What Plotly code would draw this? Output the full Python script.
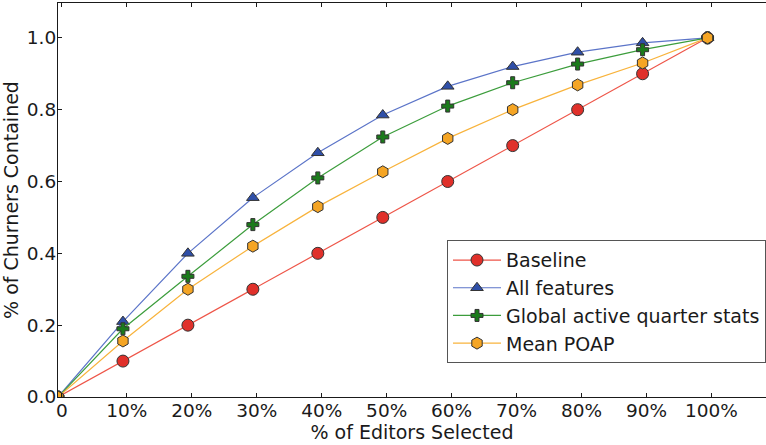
import plotly.graph_objects as go

# Fraction of editors selected (0%..100% in steps of 10%)
x_steps = [0, 1, 2, 3, 4, 5, 6, 7, 8, 9, 10]
tick_labels = ["0", "10%", "20%", "30%", "40%", "50%", "60%", "70%", "80%", "90%", "100%"]
y_ticks = [0.0, 0.2, 0.4, 0.6, 0.8, 1.0]

# Share of churners contained for each ranking
baseline = [0.0, 0.10, 0.20, 0.30, 0.40, 0.50, 0.60, 0.70, 0.80, 0.90, 1.0]
all_features = [0.0, 0.21, 0.40, 0.555, 0.68, 0.785, 0.865, 0.92, 0.96, 0.986, 1.0]
global_active = [0.0, 0.19, 0.336, 0.48, 0.61, 0.724, 0.81, 0.875, 0.927, 0.967, 1.0]
mean_poap = [0.0, 0.156, 0.30, 0.42, 0.53, 0.627, 0.72, 0.80, 0.869, 0.93, 1.0]

series = [
    ("Baseline", baseline, "#ee5548", "#e0302a", "circle", 12),
    ("All features", all_features, "#5b74c8", "#2f4fa8", "triangle-up", 11),
    ("Global active quarter stats", global_active, "#3c9d3c", "#1b7a1b", "cross", 10),
    ("Mean POAP", mean_poap, "#f8b33c", "#f5a524", "hexagon", 12),
]

fig = go.Figure()
for name, vals, line_col, fill_col, symbol, size in series:
    fig.add_trace(go.Scatter(
        x=x_steps, y=vals, name=name, mode="lines+markers",
        line=dict(color=line_col, width=1.2),
        marker=dict(symbol=symbol, size=size, color=fill_col,
                    line=dict(color="#333333", width=1)),
    ))

font_family = "DejaVu Sans"
ink = "#1a1a1a"
fig.update_layout(
    width=766, height=445,
    margin=dict(l=58, r=0, t=3, b=48),
    paper_bgcolor="white", plot_bgcolor="white",
    font=dict(family=font_family, size=18.5, color=ink),
    showlegend=True,
    legend=dict(
        x=1.0, y=0.398, xanchor="right", yanchor="top",
        bgcolor="white", bordercolor="#555555", borderwidth=1,
        font=dict(family=font_family, size=19, color=ink),
        itemwidth=48, tracegroupgap=0,
    ),
)
fig.update_xaxes(
    range=[0, 10.9],
    tickvals=[v + 0.06 for v in x_steps], ticktext=tick_labels,
    tickfont=dict(size=18.5), ticklabelstandoff=-3,
    ticks="inside", ticklen=4, tickcolor=ink,
    showline=True, linecolor=ink, linewidth=1.2, mirror="ticks",
    showgrid=False, zeroline=False,
    title=dict(text="% of Editors Selected", standoff=0,
               font=dict(family=font_family, size=19, color=ink)),
)
fig.update_yaxes(
    range=[0, 1.097],
    tickvals=y_ticks, tickformat=".1f",
    tickfont=dict(size=18.5), ticklabelstandoff=-3,
    ticks="inside", ticklen=4, tickcolor=ink,
    showline=True, linecolor=ink, linewidth=1.2,
    showgrid=False, zeroline=False,
    title=dict(text="% of Churners Contained", standoff=3,
               font=dict(family=font_family, size=19, color=ink)),
)

fig.write_html("out.html")
